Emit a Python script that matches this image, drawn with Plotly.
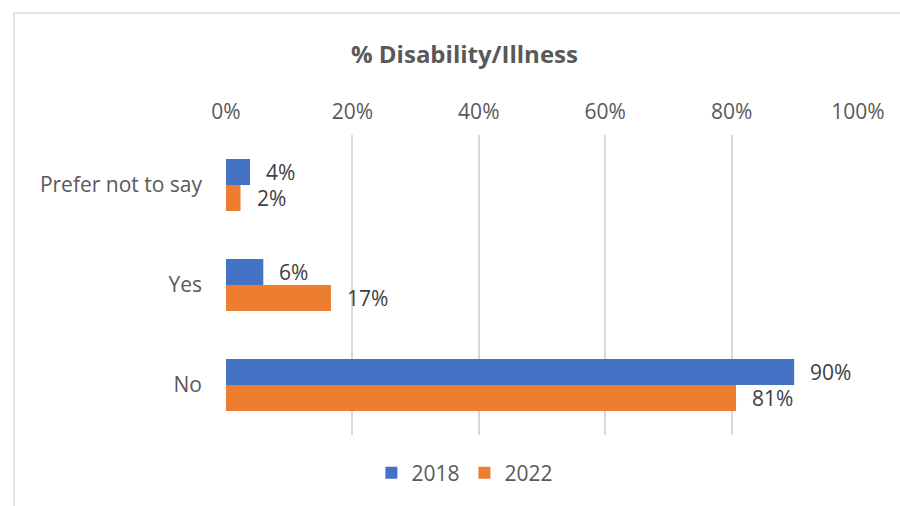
import plotly.graph_objects as go

categories = ["Prefer not to say", "Yes", "No"]
years = ["2018", "2022"]
values_2018 = [3.8, 5.9, 89.9]
values_2022 = [2.3, 16.6, 80.7]
x_ticks = [0, 20, 40, 60, 80, 100]
x_tick_labels = ["0%", "20%", "40%", "60%", "80%", "100%"]

colors = {"2018": "#4472C4", "2022": "#ED7D31"}
FONT = "Open Sans"
GRID = "#d9d9d9"
TEXT = "#595959"

fig = go.Figure()
for year, vals in zip(years, [values_2018, values_2022]):
    fig.add_trace(go.Bar(
        name=year, y=categories, x=vals, orientation="h",
        marker=dict(color=colors[year], line=dict(width=0)),
        hoverinfo="skip",
    ))

# value labels next to each bar end
annotations = []
for shift, vals in zip([13, -13], [values_2018, values_2022]):
    for cat, v in zip(categories, vals):
        annotations.append(dict(
            x=v, y=cat, xref="x", yref="y", text=f"{v:.0f}%",
            showarrow=False, xanchor="left", yanchor="middle",
            xshift=14, yshift=shift,
            font=dict(family=FONT, size=21, color="#404040"),
        ))

annotations.append(dict(
    x=0.378, y=1.273, xref="paper", yref="paper",
    text="<b>% Disability/Illness</b>", showarrow=False,
    xanchor="center", yanchor="middle",
    font=dict(family=FONT, size=24, color=TEXT),
))

fig.update_layout(
    width=900, height=506,
    margin=dict(l=226, r=42, t=135, b=71),
    paper_bgcolor="white", plot_bgcolor="white",
    barmode="group", bargap=0.48, bargroupgap=0,
    font=dict(family=FONT, size=21, color=TEXT),
    annotations=annotations,
    showlegend=True,
    legend=dict(orientation="h", x=0.378, y=-0.127, xanchor="center",
                yanchor="middle", font=dict(family=FONT, size=21, color=TEXT),
                itemwidth=30, traceorder="normal"),
    shapes=[
        dict(type="line", xref="paper", yref="paper", x0=-0.3354, x1=1.2,
             y0=1.4067, y1=1.4067, line=dict(color=GRID, width=1.5)),
        dict(type="line", xref="paper", yref="paper", x0=-0.3354, x1=-0.3354,
             y0=1.4067, y1=-0.3, line=dict(color=GRID, width=1.5)),
    ],
)
fig.update_xaxes(
    side="top", range=[0, 100], tickvals=x_ticks, ticktext=x_tick_labels,
    showgrid=True, gridcolor=GRID, gridwidth=1.8, zeroline=False,
    showline=False, ticks="", ticklabelstandoff=11, fixedrange=True,
)
fig.update_yaxes(
    categoryorder="array", categoryarray=categories, autorange="reversed",
    showgrid=False, zeroline=False, showline=False, ticks="",
    ticklabelstandoff=23, fixedrange=True,
)

fig.write_html("out.html")
